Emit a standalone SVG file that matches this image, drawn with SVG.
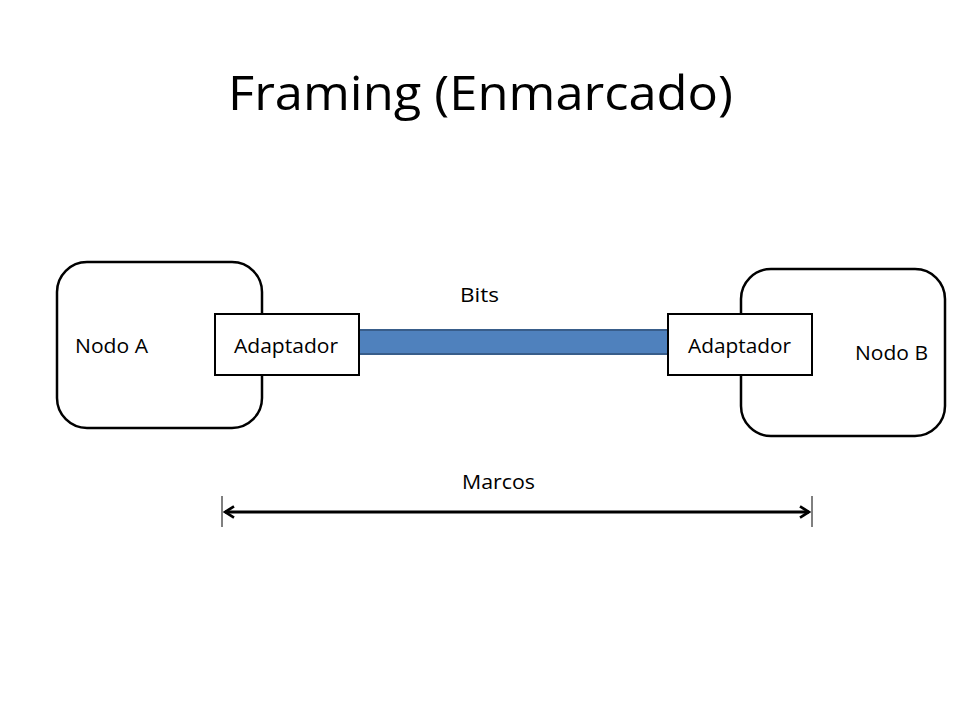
<svg xmlns="http://www.w3.org/2000/svg" width="960" height="720" viewBox="0 0 960 720">
<style>
.node{fill:#fff;stroke:#000;stroke-width:2.5}
.adp{fill:#fff;stroke:#000;stroke-width:2}
.t{font-family:"Open Sans","Liberation Sans",sans-serif;font-size:20px;fill:#000}
.title{font-family:"Open Sans","Liberation Sans",sans-serif;font-size:48px;fill:#000}
.conn{stroke:#000;stroke-width:3;fill:none}
</style>
<defs>
<marker id="ah" viewBox="0 0 12 12" refX="10" refY="6" markerWidth="4.5" markerHeight="4.5" orient="auto-start-reverse" markerUnits="strokeWidth">
<path d="M2,1 L10,6 L2,11" fill="none" stroke="#000" stroke-width="2.4"/>
</marker>
</defs>
<rect width="960" height="720" fill="#fff"/>
<text class="title" x="228" y="110" textLength="505" lengthAdjust="spacingAndGlyphs">Framing (Enmarcado)</text>
<g id="nodoA">
<rect class="node" x="57" y="262" width="205" height="166" rx="30"/>
<text class="t" x="75" y="353" textLength="73" lengthAdjust="spacingAndGlyphs">Nodo A</text>
</g>
<g id="nodoB">
<rect class="node" x="741" y="269" width="204" height="167" rx="30"/>
<text class="t" x="855" y="360" textLength="73" lengthAdjust="spacingAndGlyphs">Nodo B</text>
</g>
<g id="connectors">
<rect x="359" y="330" width="309" height="24" fill="#4F81BD" stroke="#385D8A" stroke-width="2"/>
<text class="t" x="460" y="302" textLength="39" lengthAdjust="spacingAndGlyphs">Bits</text>
<line class="conn" x1="225" y1="512" x2="809" y2="512" marker-start="url(#ah)" marker-end="url(#ah)"/>
<line x1="222" y1="496" x2="222" y2="527" stroke="#000" stroke-width="1"/>
<line x1="812" y1="496" x2="812" y2="527" stroke="#000" stroke-width="1"/>
<text class="t" x="462" y="489" textLength="73" lengthAdjust="spacingAndGlyphs">Marcos</text>
</g>
<g id="adaptadorA">
<rect class="adp" x="215" y="314" width="144" height="61"/>
<text class="t" x="234" y="353" textLength="104" lengthAdjust="spacingAndGlyphs">Adaptador</text>
</g>
<g id="adaptadorB">
<rect class="adp" x="668" y="314" width="144" height="61"/>
<text class="t" x="688" y="353" textLength="103" lengthAdjust="spacingAndGlyphs">Adaptador</text>
</g>
</svg>
